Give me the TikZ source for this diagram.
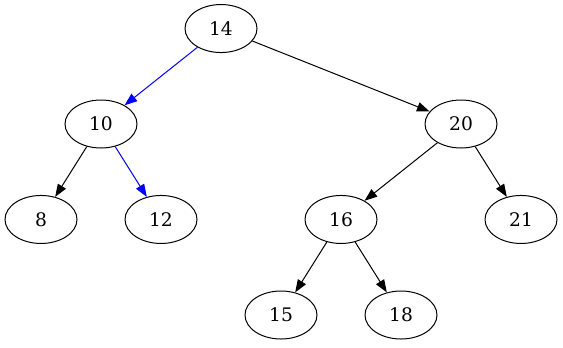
\documentclass[tikz,border=0pt]{standalone}
\usepackage{fontspec}
\setmainfont{DejaVu Serif}
\usetikzlibrary{shapes.geometric,arrows.meta}
\begin{document}
\begin{tikzpicture}[x=1pt,y=1pt,
  vnode/.style={ellipse,draw,line width=0.75pt,minimum width=54pt,minimum height=36pt,inner sep=0pt,font=\fontsize{14}{16}\selectfont},
  edge/.style={line width=0.75pt,-{Triangle[length=9.5pt,width=7pt]}},
  hl/.style={edge,blue}]
\useasboundingbox (0,0) rectangle (422.25,-260.25);
\node[vnode] (n14) at (165.75,-21.4) {14};
\node[vnode] (n10) at (75.75,-93) {10};
\node[vnode] (n20) at (345.75,-93) {20};
\node[vnode] (n8) at (30.75,-164.6) {8};
\node[vnode] (n12) at (120.75,-164.6) {12};
\node[vnode] (n16) at (255.75,-164.6) {16};
\node[vnode] (n21) at (390.75,-164.6) {21};
\node[vnode] (n15) at (210.75,-236.25) {15};
\node[vnode] (n18) at (300.75,-236.25) {18};
\draw[hl] (n14) -- (n10);
\draw[edge] (n14) -- (n20);
\draw[edge] (n10) -- (n8);
\draw[hl] (n10) -- (n12);
\draw[edge] (n20) -- (n16);
\draw[edge] (n20) -- (n21);
\draw[edge] (n16) -- (n15);
\draw[edge] (n16) -- (n18);
\end{tikzpicture}
\end{document}
